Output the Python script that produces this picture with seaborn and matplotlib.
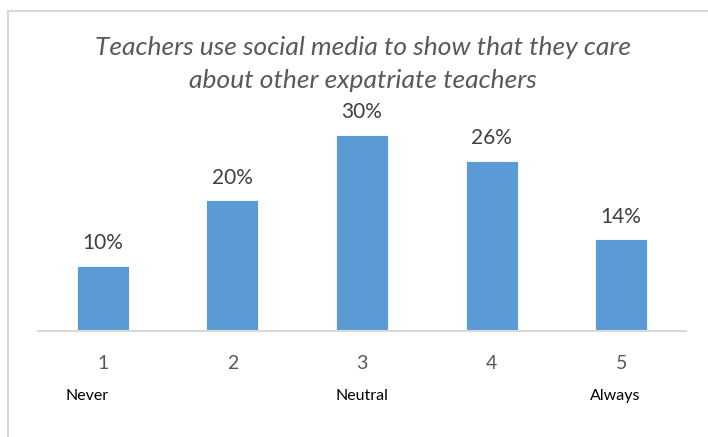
import matplotlib
matplotlib.use("Agg")
import matplotlib.pyplot as plt
import seaborn as sns
import pandas as pd
from matplotlib.patches import Rectangle

# Survey responses on a 1–5 frequency scale
categories = ["1", "2", "3", "4", "5"]
percentages = [10, 20, 30, 26, 14]
scale_labels = ["Never", "", "Neutral", "", "Always"]
title_text = "Teachers use social media to show that they care\nabout other expatriate teachers"

df = pd.DataFrame({"response": categories, "pct": percentages})

sns.set_theme(style="white")
plt.rcParams["font.family"] = ["Lato", "DejaVu Sans"]

fig = plt.figure(figsize=(7.08, 4.37), dpi=100)
ax = fig.add_axes([38 / 708, 106 / 437, 648 / 708, 229.25 / 437])

sns.barplot(data=df, x="response", y="pct", color="#5B9BD5", width=0.4,
            saturation=1, edgecolor="white", linewidth=0.6, ax=ax)

ax.set_xlim(-0.5, 4.5)
ax.set_ylim(0, 35)
ax.set_xlabel("")
ax.set_ylabel("")
ax.set_yticks([])
for side in ["top", "right", "left"]:
    ax.spines[side].set_visible(False)
ax.spines["bottom"].set_color("#D9D9D9")
ax.spines["bottom"].set_linewidth(1.5)
ax.tick_params(axis="x", length=0, pad=17, labelsize=14, labelcolor="#595959")

# value labels above each bar
for i, v in enumerate(percentages):
    ax.annotate(f"{v}%", (i, v), xytext=(0, 9), textcoords="offset points",
                ha="center", va="bottom", fontsize=15, color="#404040")

# verbal anchors under the numeric scale
offsets = [-0.12, 0, 0, 0, -0.05]
for i, lab in enumerate(scale_labels):
    if lab:
        ax.text(i + offsets[i], -0.285, lab, transform=ax.get_xaxis_transform(),
                ha="center", va="center", fontsize=11.5, color="#000000")

fig.text(363 / 708, 1 - 64 / 437, title_text, ha="center", va="center",
         fontsize=19, style="italic", color="#595959", linespacing=1.5)

# chart frame
fig.patches.append(Rectangle((8 / 708, -0.5), 2.0, 1 - 11 / 437 + 0.5,
                             transform=fig.transFigure, fill=False,
                             edgecolor="#D9D9D9", linewidth=1.5))

fig.savefig("out.png", dpi=100)
